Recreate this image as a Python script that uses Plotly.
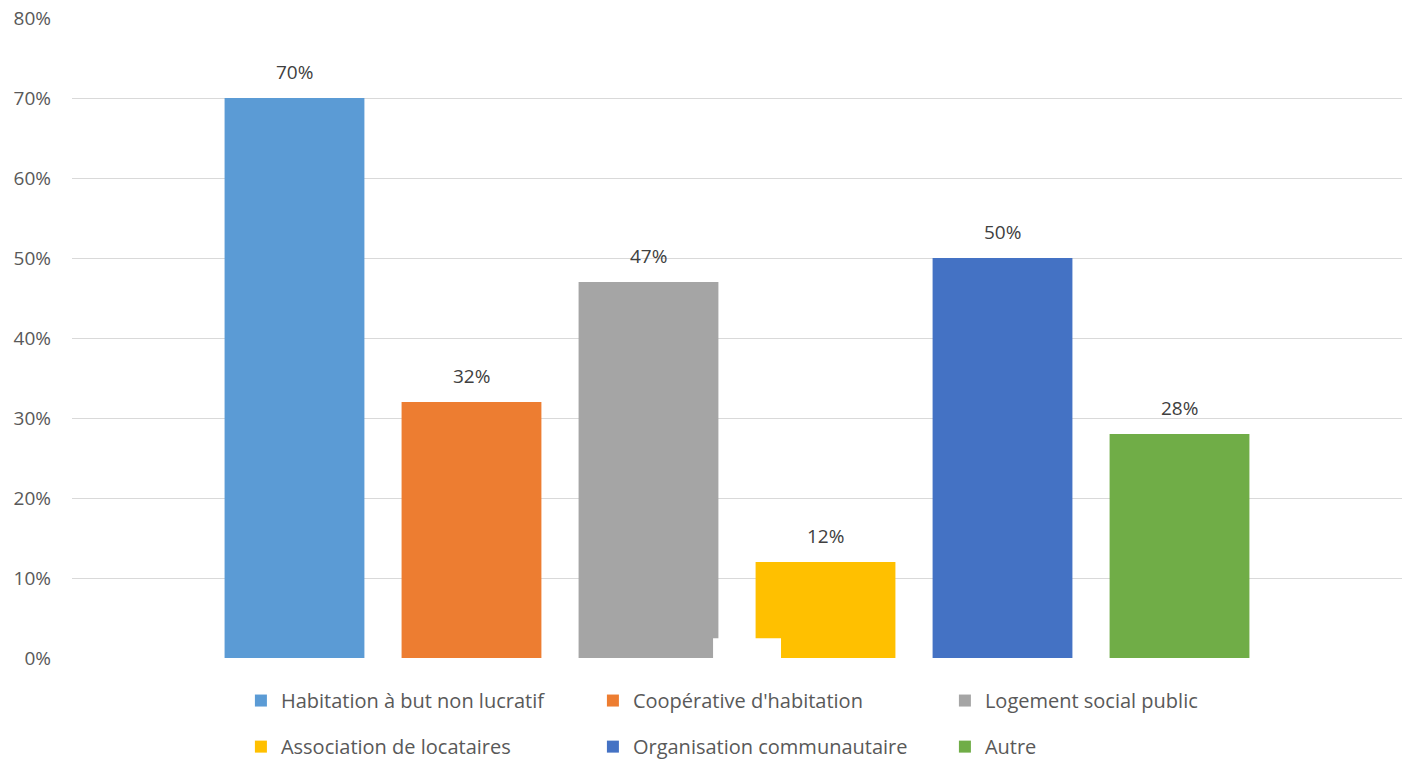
import plotly.graph_objects as go

categories = [
    "Habitation à but non lucratif",
    "Coopérative d'habitation",
    "Logement social public",
    "Association de locataires",
    "Organisation communautaire",
    "Autre",
]
values = [0.70, 0.32, 0.47, 0.12, 0.50, 0.28]
colors = ["#5B9BD5", "#ED7D31", "#A5A5A5", "#FFC000", "#4472C4", "#70AD47"]

FONT = "Open Sans"
TXT = "#595959"

fig = go.Figure()
for i, (name, val, col) in enumerate(zip(categories, values, colors)):
    fig.add_trace(go.Bar(
        x=[name], y=[val], name=name, marker_color=col,
        marker_line_width=0, width=0.79,
        legend="legend" if i < 3 else "legend2",
    ))
    fig.add_annotation(
        x=name, y=val, text=f"{val:.0%}", showarrow=False,
        yanchor="bottom", yshift=11,
        font=dict(family=FONT, size=19, color="#404040"),
    )

# white patch over the base of the grey and yellow bars
fig.add_shape(type="rect", xref="paper", yref="paper",
              x0=0.4820, x1=0.5331, y0=-0.004, y1=0.031,
              fillcolor="white", line_width=0, layer="above")

legend_style = dict(orientation="h", xanchor="left", yanchor="top",
                    entrywidth=307, entrywidthmode="pixels",
                    font=dict(family=FONT, size=20, color=TXT),
                    itemclick=False, itemdoubleclick=False,
                    bgcolor="rgba(0,0,0,0)")

fig.update_layout(
    width=1405, height=761,
    margin=dict(l=72, r=3, t=18, b=103, autoexpand=False),
    paper_bgcolor="white", plot_bgcolor="white",
    barmode="overlay",
    font=dict(family=FONT, size=19, color=TXT),
    xaxis=dict(type="category", categoryorder="array", categoryarray=categories,
               range=[-1.257, 6.257], showticklabels=False, showgrid=False,
               zeroline=False, showline=False, ticks=""),
    yaxis=dict(range=[0, 0.8], dtick=0.1, tickformat=".0%",
               gridcolor="#D9D9D9", gridwidth=1, zeroline=False,
               showline=False, ticks="", ticklabelstandoff=20,
               tickfont=dict(family=FONT, size=19, color=TXT)),
    legend=dict(x=0.127, y=-0.036, **legend_style),
    legend2=dict(x=0.127, y=-0.108, **legend_style),
    showlegend=True,
)

fig.write_html("out.html")
